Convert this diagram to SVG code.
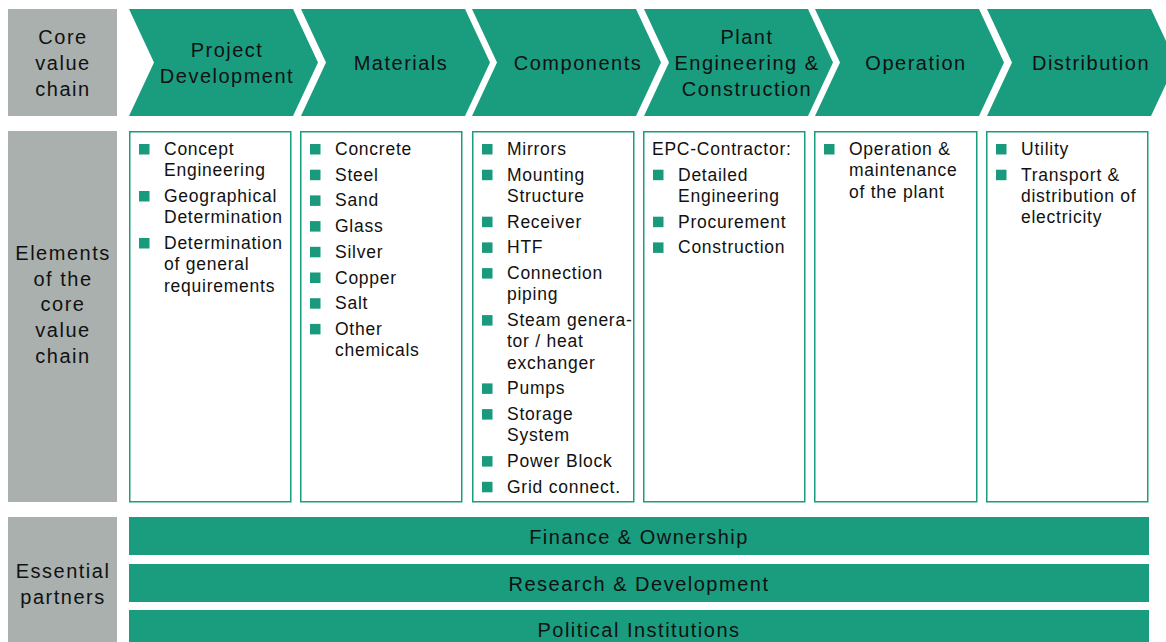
<svg xmlns="http://www.w3.org/2000/svg" width="1166" height="642" viewBox="0 0 1166 642">
<style>
.gray{fill:#A9B0AE}
.teal{fill:#1A9C7F}
.box{fill:#fff;stroke:#1A9C7F;stroke-width:1.5}
.bul{fill:#1A9A7D}
.h{font-family:"Liberation Sans",Arial,sans-serif;font-size:20px;letter-spacing:1.5px;fill:#111;text-anchor:middle}
.t{font-family:"Liberation Sans",Arial,sans-serif;font-size:17.5px;letter-spacing:0.75px;fill:#111}
</style>
<defs>
<rect id="b" width="10.5" height="10.5" class="bul"/>
</defs>
<g id="label-core">
<rect class="gray" x="8" y="9" width="109" height="107"/>
<text class="h" x="63" y="44">Core</text>
<text class="h" x="63" y="70">value</text>
<text class="h" x="63" y="96">chain</text>
</g>
<g id="label-elements">
<rect class="gray" x="8" y="131" width="109" height="371"/>
<text class="h" x="63" y="260">Elements</text>
<text class="h" x="63" y="286">of the</text>
<text class="h" x="63" y="311">core</text>
<text class="h" x="63" y="337">value</text>
<text class="h" x="63" y="363">chain</text>
</g>
<g id="label-partners">
<rect class="gray" x="8" y="517" width="109" height="125"/>
<text class="h" x="63" y="578">Essential</text>
<text class="h" x="63" y="604">partners</text>
</g>
<g id="chev-project">
<polygon class="teal" points="129,9 293,9 318,62.5 293,116 129,116 154,62.5"/>
<text class="h" x="227" y="57">Project</text>
<text class="h" x="227" y="83">Development</text>
</g>
<g id="chev-materials">
<polygon class="teal" points="301,9 465,9 490,62.5 465,116 301,116 326,62.5"/>
<text class="h" x="401" y="70">Materials</text>
</g>
<g id="chev-components">
<polygon class="teal" points="472,9 636,9 661,62.5 636,116 472,116 497,62.5"/>
<text class="h" x="578" y="70">Components</text>
</g>
<g id="chev-plant">
<polygon class="teal" points="644,9 808,9 833,62.5 808,116 644,116 669,62.5"/>
<text class="h" x="747" y="44">Plant</text>
<text class="h" x="747" y="70">Engineering &amp;</text>
<text class="h" x="747" y="96">Construction</text>
</g>
<g id="chev-operation">
<polygon class="teal" points="815,9 979,9 1004,62.5 979,116 815,116 840,62.5"/>
<text class="h" x="916" y="70">Operation</text>
</g>
<g id="chev-distribution">
<polygon class="teal" points="987,9 1151,9 1176,62.5 1151,116 987,116 1012,62.5"/>
<text class="h" x="1091" y="70">Distribution</text>
</g>
<g id="box-project">
<rect class="box" x="129.75" y="131.75" width="161" height="370"/>
<use href="#b" x="139" y="144"/><text class="t" x="164" y="155">Concept</text>
<text class="t" x="164" y="176.3">Engineering</text>
<use href="#b" x="139" y="191"/><text class="t" x="164" y="202">Geographical</text>
<text class="t" x="164" y="223.3">Determination</text>
<use href="#b" x="139" y="238"/><text class="t" x="164" y="249">Determination</text>
<text class="t" x="164" y="270.3">of general</text>
<text class="t" x="164" y="291.6">requirements</text>
</g>
<g id="box-materials">
<rect class="box" x="300.75" y="131.75" width="161" height="370"/>
<use href="#b" x="310" y="144"/><text class="t" x="335" y="155">Concrete</text>
<use href="#b" x="310" y="169.7"/><text class="t" x="335" y="180.7">Steel</text>
<use href="#b" x="310" y="195.4"/><text class="t" x="335" y="206.4">Sand</text>
<use href="#b" x="310" y="221.1"/><text class="t" x="335" y="232.1">Glass</text>
<use href="#b" x="310" y="246.8"/><text class="t" x="335" y="257.8">Silver</text>
<use href="#b" x="310" y="272.5"/><text class="t" x="335" y="283.5">Copper</text>
<use href="#b" x="310" y="298.2"/><text class="t" x="335" y="309.2">Salt</text>
<use href="#b" x="310" y="323.9"/><text class="t" x="335" y="334.9">Other</text>
<text class="t" x="335" y="356.2">chemicals</text>
</g>
<g id="box-components">
<rect class="box" x="472.75" y="131.75" width="161" height="370"/>
<use href="#b" x="482" y="144"/><text class="t" x="507" y="155">Mirrors</text>
<use href="#b" x="482" y="169.7"/><text class="t" x="507" y="180.7">Mounting</text>
<text class="t" x="507" y="202">Structure</text>
<use href="#b" x="482" y="216.7"/><text class="t" x="507" y="227.7">Receiver</text>
<use href="#b" x="482" y="242.4"/><text class="t" x="507" y="253.4">HTF</text>
<use href="#b" x="482" y="268.1"/><text class="t" x="507" y="279.1">Connection</text>
<text class="t" x="507" y="300.4">piping</text>
<use href="#b" x="482" y="315.1"/><text class="t" x="507" y="326.1">Steam genera-</text>
<text class="t" x="507" y="347.4">tor / heat</text>
<text class="t" x="507" y="368.7">exchanger</text>
<use href="#b" x="482" y="383.4"/><text class="t" x="507" y="394.4">Pumps</text>
<use href="#b" x="482" y="409.1"/><text class="t" x="507" y="420.1">Storage</text>
<text class="t" x="507" y="441.4">System</text>
<use href="#b" x="482" y="456.1"/><text class="t" x="507" y="467.1">Power Block</text>
<use href="#b" x="482" y="481.8"/><text class="t" x="507" y="492.8">Grid connect.</text>
</g>
<g id="box-plant">
<rect class="box" x="643.75" y="131.75" width="161" height="370"/>
<text class="t" x="652" y="155">EPC-Contractor:</text>
<use href="#b" x="653" y="169.7"/><text class="t" x="678" y="180.7">Detailed</text>
<text class="t" x="678" y="202">Engineering</text>
<use href="#b" x="653" y="216.7"/><text class="t" x="678" y="227.7">Procurement</text>
<use href="#b" x="653" y="242.4"/><text class="t" x="678" y="253.4">Construction</text>
</g>
<g id="box-operation">
<rect class="box" x="814.75" y="131.75" width="162" height="370"/>
<use href="#b" x="824" y="144"/><text class="t" x="849" y="155">Operation &amp;</text>
<text class="t" x="849" y="176.3">maintenance</text>
<text class="t" x="849" y="197.6">of the plant</text>
</g>
<g id="box-distribution">
<rect class="box" x="986.75" y="131.75" width="161" height="370"/>
<use href="#b" x="996" y="144"/><text class="t" x="1021" y="155">Utility</text>
<use href="#b" x="996" y="169.7"/><text class="t" x="1021" y="180.7">Transport &amp;</text>
<text class="t" x="1021" y="202">distribution of</text>
<text class="t" x="1021" y="223.3">electricity</text>
</g>
<g id="bar-finance">
<rect class="teal" x="129" y="517" width="1020" height="38"/>
<text class="h" x="639" y="544">Finance &amp; Ownership</text>
</g>
<g id="bar-research">
<rect class="teal" x="129" y="564" width="1020" height="38"/>
<text class="h" x="639" y="591">Research &amp; Development</text>
</g>
<g id="bar-political">
<rect class="teal" x="129" y="610" width="1020" height="38"/>
<text class="h" x="639" y="637">Political Institutions</text>
</g>
</svg>
